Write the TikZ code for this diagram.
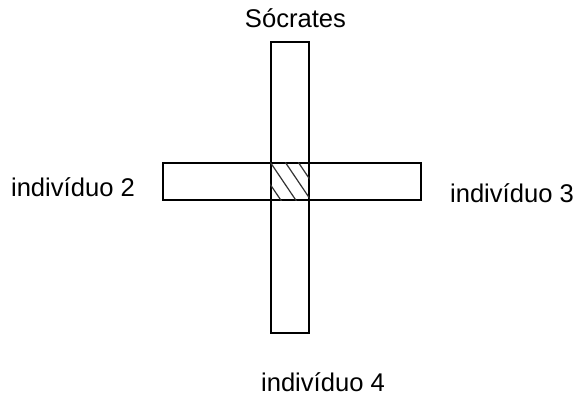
\documentclass[tikz,border=0pt]{standalone}
\usepackage{fontspec}
\setmainfont{Liberation Sans}
\usetikzlibrary{positioning}
\tikzset{bar node/.style={rectangle,draw,line width=0.7pt,inner sep=0pt},
name node/.style={font=\fontsize{12.8}{15}\selectfont,inner sep=0pt},
hatch/.style={line width=0.6pt,black!80}}

\begin{document}
\begin{tikzpicture}[x=0.5pt,y=-0.5pt]
    \useasboundingbox (0,0) rectangle (586,396);
    \node[bar node,minimum width=129pt,minimum height=18.5pt] (h) at (292,181.5) {};
    \node[bar node,minimum width=19pt,minimum height=145.5pt] (v) at (290,187.5) {};

    % hatched overlap
    \coordinate (hc) at (v.west |- h.north);
    \begin{scope}
        \clip (v.west |- h.north) rectangle (v.east |- h.south);
        \foreach \o in {-15,0,15,28}
            \draw[hatch] ([xshift=\o*0.5pt]hc) -- ++(27,40);
    \end{scope}

    \node[name node] (soc) [above=6.5pt of v,xshift=2.75pt] {Sócrates};
    \node[name node] (i2) [left=13.5pt of h,yshift=-2.75pt] {indivíduo 2};
    \node[name node] (i3) [right=14pt of h,yshift=-5.75pt] {indivíduo 3};
    \node[name node] (i4) [below=19.5pt of v,xshift=16.5pt] {indivíduo 4};
\end{tikzpicture}
\end{document}
